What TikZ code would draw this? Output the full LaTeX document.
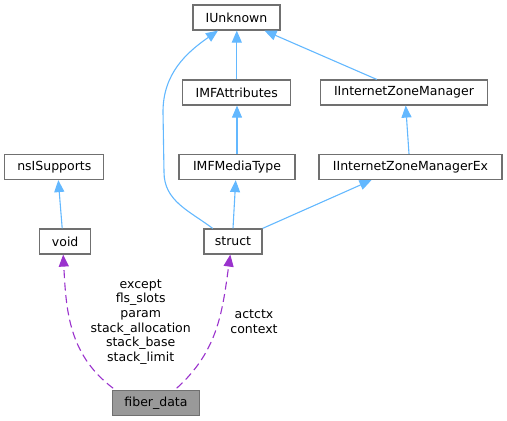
\documentclass[tikz,border=0pt]{standalone}
\usepackage{fontspec}
\setmainfont{DejaVu Sans}
\usetikzlibrary{arrows.meta}
\definecolor{edgeblue}{HTML}{63B8FF}
\definecolor{edgepurple}{HTML}{9A32CD}
\definecolor{boxgray}{HTML}{707070}
\definecolor{fillgray}{HTML}{999999}
\begin{document}
\begin{tikzpicture}[x=1pt,y=1pt,
  box/.style={draw=boxgray, line width=1.2pt, fill=white, inner sep=0pt, minimum height=25pt,
    font=\fontsize{12.5}{14.7}\selectfont, text=black, anchor=center},
  inh/.style={draw=edgeblue, line width=1.1pt, -{Triangle[length=12pt,width=10pt]}, edgeblue},
  use/.style={draw=edgepurple, line width=1.1pt, dash pattern=on 8pt off 4.5pt, -{Triangle[length=12pt,width=10pt]}, edgepurple},
  lbl/.style={font=\fontsize{12.5}{14.7}\selectfont, text=black, align=center, inner sep=0pt}]
\useasboundingbox (0,0) rectangle (507,-421);
% nodes
\node[box, minimum width=87pt]  (IUnknown) at (236.5,-17.5) {IUnknown};
\node[box, minimum width=108pt] (IMFAttributes) at (236.8,-92.5) {IMFAttributes};
\node[box, minimum width=166.6pt] (IIZM) at (404,-92.5) {IInternetZoneManager};
\node[box, minimum width=116pt] (IMFMediaType) at (237,-167) {IMFMediaType};
\node[box, minimum width=183pt] (IIZMEx) at (410.5,-167) {IInternetZoneManagerEx};
\node[box, minimum width=99pt] (nsISupports) at (54.3,-167) {nsISupports};
\node[box, minimum width=58pt] (struct) at (233,-241.5) {struct};
\node[box, minimum width=51pt] (void) at (65.2,-241.5) {void};
\node[box, minimum width=86.6pt, fill=fillgray] (fiber) at (156,-403.3) {fiber\_data};
% inheritance edges
\draw[inh] ([xshift=-3pt]void.north) -- ([xshift=4pt]nsISupports.south);
\draw[inh] (IMFAttributes.north) -- (IMFAttributes.north |- IUnknown.south);
\draw[inh] (IMFMediaType.north) -- (IMFMediaType.north |- IMFAttributes.south);
\draw[inh] (struct.north) -- ([xshift=-1.3pt]IMFMediaType.south);
\draw[inh] ([xshift=-27.3pt]IIZM.north) -- ([xshift=28pt]IUnknown.south);
\draw[inh] ([xshift=-1.5pt]IIZMEx.north) -- ([xshift=1.7pt]IIZM.south);
\draw[inh] (struct.north east) -- ([xshift=-39pt]IIZMEx.south);
\draw[inh] ([xshift=-20.3pt]struct.north) to[out=143,in=-90] (164,-172) -- (163,-112) to[out=90,in=-145] ([xshift=-18.5pt]IUnknown.south);
% usage edges
\draw[use] ([xshift=1pt,yshift=2pt]fiber.north west) to[out=143,in=-87] ([xshift=-2pt]void.south);
\draw[use] ([xshift=20.7pt,yshift=2pt]fiber.north) to[out=42,in=-98] ([xshift=-2.7pt]struct.south);
% labels
\node[lbl] (lblvoid) at (140.7,-322) {except\\fls\_slots\\param\\stack\_allocation\\stack\_base\\stack\_limit};
\node[lbl] (lblstruct) at (254,-321.7) {actctx\\context};
\end{tikzpicture}
\end{document}
